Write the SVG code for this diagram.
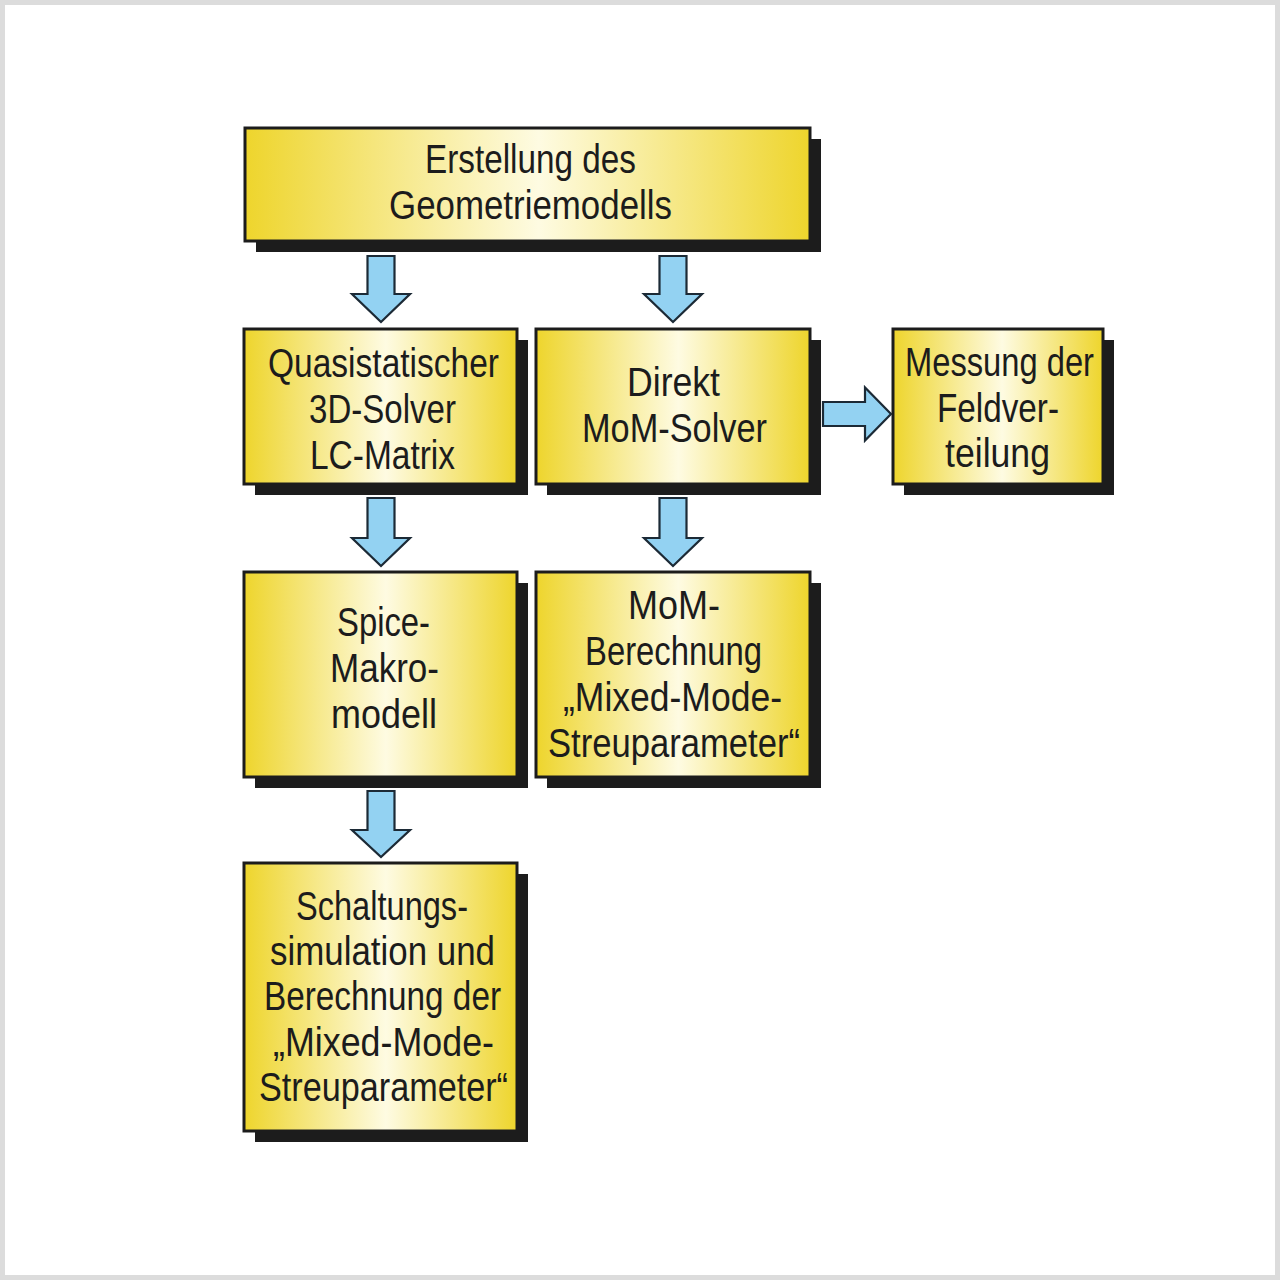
<svg xmlns="http://www.w3.org/2000/svg" width="1280" height="1280" viewBox="0 0 1280 1280">
<defs>
<linearGradient id="yg" x1="0" y1="0" x2="1" y2="0">
<stop offset="0" stop-color="#eed52c"/>
<stop offset="0.52" stop-color="#fefbe2"/>
<stop offset="1" stop-color="#eed52c"/>
</linearGradient>
<style>
.sh{fill:#1c1c1c}
.bx{fill:url(#yg);stroke:#1c1c1c;stroke-width:3}
.t{font-family:"Liberation Sans","Open Sans",sans-serif;font-size:40px;fill:#1c1c1c;text-anchor:middle}
.ar{fill:#93d2f2;stroke:#1c2a36;stroke-width:2.2;stroke-linejoin:miter}
</style>
</defs>
<rect x="2.5" y="2.5" width="1275" height="1275" fill="#ffffff" stroke="#dcdcdc" stroke-width="5"/>

<g id="connectors">
<path class="ar" d="M367.5,256 H394.5 V294 H410 L381,322 L352,294 H367.5 Z"/>
<path class="ar" d="M659.5,256 H686.5 V294 H702 L673,322 L644,294 H659.5 Z"/>
<path class="ar" d="M367.5,498 H394.5 V538 H410 L381,566 L352,538 H367.5 Z"/>
<path class="ar" d="M659.5,498 H686.5 V538 H702 L673,566 L644,538 H659.5 Z"/>
<path class="ar" d="M367.5,791 H394.5 V830 H410 L381,857 L352,830 H367.5 Z"/>
<path class="ar" d="M823,402 H865 V387.5 L891,414 L865,440.5 V426 H823 Z"/>
</g>

<g id="node-geometrie">
<rect class="sh" x="256" y="139" width="565" height="113"/>
<rect class="bx" x="245" y="128" width="565" height="113"/>
<text class="t" x="530.5" y="173" textLength="211" lengthAdjust="spacingAndGlyphs">Erstellung des</text>
<text class="t" x="530.5" y="219" textLength="283" lengthAdjust="spacingAndGlyphs">Geometriemodells</text>
</g>

<g id="node-quasistatisch">
<rect class="sh" x="255" y="340" width="273" height="155"/>
<rect class="bx" x="244" y="329" width="273" height="155"/>
<text class="t" x="383.5" y="377" textLength="231" lengthAdjust="spacingAndGlyphs">Quasistatischer</text>
<text class="t" x="382.5" y="423" textLength="147" lengthAdjust="spacingAndGlyphs">3D-Solver</text>
<text class="t" x="382.5" y="469" textLength="145" lengthAdjust="spacingAndGlyphs">LC-Matrix</text>
</g>

<g id="node-mom-solver">
<rect class="sh" x="547" y="340" width="274" height="155"/>
<rect class="bx" x="536" y="329" width="274" height="155"/>
<text class="t" x="673.5" y="396" textLength="93" lengthAdjust="spacingAndGlyphs">Direkt</text>
<text class="t" x="674.5" y="442" textLength="185" lengthAdjust="spacingAndGlyphs">MoM-Solver</text>
</g>

<g id="node-messung">
<rect class="sh" x="904" y="340" width="210" height="155"/>
<rect class="bx" x="893" y="329" width="210" height="155"/>
<text class="t" x="999.5" y="376" textLength="189" lengthAdjust="spacingAndGlyphs">Messung der</text>
<text class="t" x="998" y="422" textLength="122" lengthAdjust="spacingAndGlyphs">Feldver-</text>
<text class="t" x="997.5" y="467" textLength="105" lengthAdjust="spacingAndGlyphs">teilung</text>
</g>

<g id="node-spice">
<rect class="sh" x="255" y="583" width="273" height="205"/>
<rect class="bx" x="244" y="572" width="273" height="205"/>
<text class="t" x="383.5" y="636" textLength="93" lengthAdjust="spacingAndGlyphs">Spice-</text>
<text class="t" x="384.5" y="682" textLength="109" lengthAdjust="spacingAndGlyphs">Makro-</text>
<text class="t" x="384" y="728" textLength="106" lengthAdjust="spacingAndGlyphs">modell</text>
</g>

<g id="node-mom-berechnung">
<rect class="sh" x="547" y="583" width="274" height="205"/>
<rect class="bx" x="536" y="572" width="274" height="205"/>
<text class="t" x="674" y="619" textLength="92" lengthAdjust="spacingAndGlyphs">MoM-</text>
<text class="t" x="673.5" y="665" textLength="177" lengthAdjust="spacingAndGlyphs">Berechnung</text>
<text class="t" x="672.5" y="711" textLength="219" lengthAdjust="spacingAndGlyphs">„Mixed-Mode-</text>
<text class="t" x="674" y="757" textLength="252" lengthAdjust="spacingAndGlyphs">Streuparameter“</text>
</g>

<g id="node-schaltung">
<rect class="sh" x="255" y="874" width="273" height="268"/>
<rect class="bx" x="244" y="863" width="273" height="268"/>
<text class="t" x="382" y="920" textLength="172" lengthAdjust="spacingAndGlyphs">Schaltungs-</text>
<text class="t" x="382.5" y="965" textLength="225" lengthAdjust="spacingAndGlyphs">simulation und</text>
<text class="t" x="382.5" y="1010" textLength="237" lengthAdjust="spacingAndGlyphs">Berechnung der</text>
<text class="t" x="383.5" y="1056" textLength="221" lengthAdjust="spacingAndGlyphs">„Mixed-Mode-</text>
<text class="t" x="383.5" y="1101" textLength="249" lengthAdjust="spacingAndGlyphs">Streuparameter“</text>
</g>
</svg>
